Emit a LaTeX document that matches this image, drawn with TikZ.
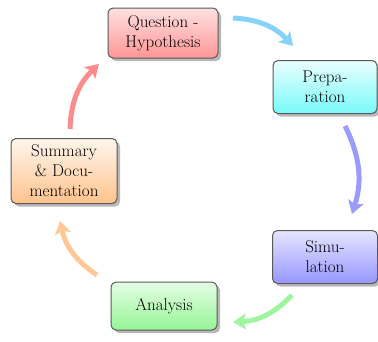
\documentclass[tikz,border=0pt]{standalone}
\usetikzlibrary{arrows.meta,shadows,positioning}
\begin{document}
\begin{tikzpicture}[x=1pt,y=-1pt,
  modbox/.style={draw=gray!70!black, line width=1pt, rounded corners=5pt, align=center,
    font=\fontsize{17}{20}\selectfont, inner sep=0pt,
    drop shadow={shadow xshift=3pt, shadow yshift=-3pt, fill=gray!70, opacity=0.8}},
  flow/.style={line width=5pt, -{Stealth[length=13pt,width=16pt,inset=3pt]}, bend left=22}]
\useasboundingbox (0,0) rectangle (378,341);
\definecolor{cq}{RGB}{255,150,150}
\definecolor{cp}{RGB}{120,250,250}
\definecolor{cs}{RGB}{150,150,255}
\definecolor{ca}{RGB}{150,245,150}
\definecolor{cm}{RGB}{255,195,140}
\definecolor{aq}{RGB}{135,210,250}
\definecolor{ap}{RGB}{155,155,255}
\definecolor{as}{RGB}{160,245,160}
\definecolor{aa}{RGB}{255,200,150}
\definecolor{am}{RGB}{255,140,140}
\node[modbox, minimum width=110pt, minimum height=50pt, top color=cq!30, bottom color=cq] (q) at (163,33) {Question -\\Hypothesis};
\node[modbox, minimum width=104pt, minimum height=53pt, top color=cp!15, bottom color=cp] (p) at (325,87) {Prepa-\\ration};
\node[modbox, minimum width=105pt, minimum height=53pt, top color=cs!25, bottom color=cs] (s) at (325,257) {Simu-\\lation};
\node[modbox, minimum width=106pt, minimum height=48pt, top color=ca!25, bottom color=ca] (a) at (164,306) {Analysis};
\node[modbox, minimum width=106pt, minimum height=65pt, top color=cm!15, bottom color=cm] (m) at (64,171) {Summary\\\& Docu-\\mentation};
\coordinate (q1) at (233,18); \coordinate (p0) at (293,46);
\coordinate (p1) at (345,126); \coordinate (s0) at (352,214);
\coordinate (s1) at (292,295); \coordinate (a0) at (233,322);
\coordinate (a1) at (97,275); \coordinate (m0) at (60,221);
\coordinate (m1) at (70,129); \coordinate (q0) at (99,64);
\draw[flow, aq] (q1) to (p0);
\draw[flow, ap] (p1) to (s0);
\draw[flow, as] (s1) to (a0);
\draw[flow, aa] (a1) to (m0);
\draw[flow, am] (m1) to (q0);
\end{tikzpicture}
\end{document}
